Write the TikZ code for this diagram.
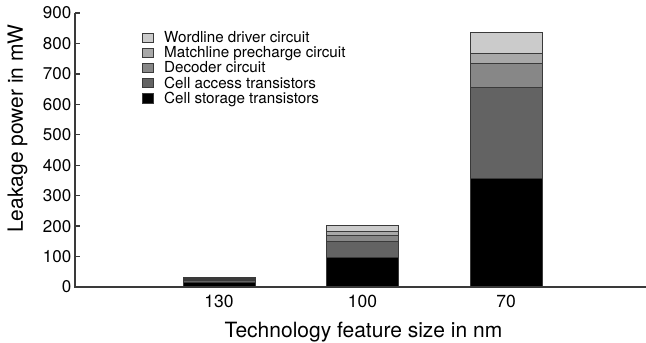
\documentclass[tikz,border=0pt]{standalone}
\usepackage{fontspec}
\setmainfont{TeX Gyre Heros}
\definecolor{cwl}{HTML}{CBCBCB}
\definecolor{cml}{HTML}{A8A8A8}
\definecolor{cdec}{HTML}{878787}
\definecolor{cacc}{HTML}{636363}
\definecolor{csto}{HTML}{000000}
\definecolor{axc}{HTML}{3A3A3A}
\newcommand\barseg[4]{\fill[#4, segline] (#1,{287-#2*0.3044}) rectangle ({#1+72.5},{287-#3*0.3044});}
\begin{document}
\begin{tikzpicture}[x=1pt,y=-1pt,
  segline/.style={draw=axc, line width=0.9pt},
  axisline/.style={draw=axc, line width=1.3pt},
  ticklab/.style={font=\fontsize{17}{17}\selectfont, anchor=east, inner sep=0pt},
  xlab/.style={font=\fontsize{17.5}{17.5}\selectfont, anchor=base, inner sep=0pt},
  title/.style={font=\fontsize{21}{21}\selectfont, anchor=base, inner sep=0pt},
  legtext/.style={font=\fontsize{15.2}{15.2}\selectfont, anchor=base west, inner sep=0pt},
  legbox/.style={draw=axc, line width=0.8pt}]
\useasboundingbox (0,0) rectangle (646,343);
% bars
\barseg{183}{0}{14}{csto}
\barseg{183}{14}{20}{cacc}
\barseg{183}{20}{24}{csto}
\barseg{183}{24}{27}{csto}
\barseg{183}{27}{31}{csto}
\barseg{326}{0}{96}{csto}
\barseg{326}{96}{150}{cacc}
\barseg{326}{150}{170}{cdec}
\barseg{326}{170}{183}{cml}
\barseg{326}{183}{203}{cwl}
\barseg{470}{0}{357}{csto}
\barseg{470}{357}{654}{cacc}
\barseg{470}{654}{736}{cdec}
\barseg{470}{736}{766}{cml}
\barseg{470}{766}{837}{cwl}
% axes
\coordinate (ytop) at (75,13);
\coordinate (orig) at (75,287);
\coordinate (xend) at (646,287);
\draw[axisline] (ytop) -- (orig) -- (xend);
\foreach \v in {0,100,...,900} {
  \draw[axisline] (75,{287-\v*0.3044}) -- (80,{287-\v*0.3044});
  \node[ticklab] (t\v) at (71.5,{287-\v*0.3044}) {\v};
}
\node[xlab] (x130) at (219,307.7) {130};
\node[xlab] (x100) at (362.5,307.7) {100};
\node[xlab] (x70) at (506,307.7) {70};
\node[title] (xt) at (363.5,337) {Technology feature size in nm};
\node[title, rotate=90] (yt) at (23,128.5) {Leakage power in mW};
% legend
\foreach \i/\c/\t in {0/cwl/Wordline driver circuit,1/cml/Matchline precharge circuit,2/cdec/Decoder circuit,3/cacc/Cell access transistors,4/csto/Cell storage transistors} {
  \fill[\c, legbox] (142.7,{42.5+15.1*\i}) rectangle (153,{33+15.1*\i});
  \node[legtext] (l\i) at (164,{42.7+15.1*\i}) {\t};
}
\end{tikzpicture}
\end{document}
